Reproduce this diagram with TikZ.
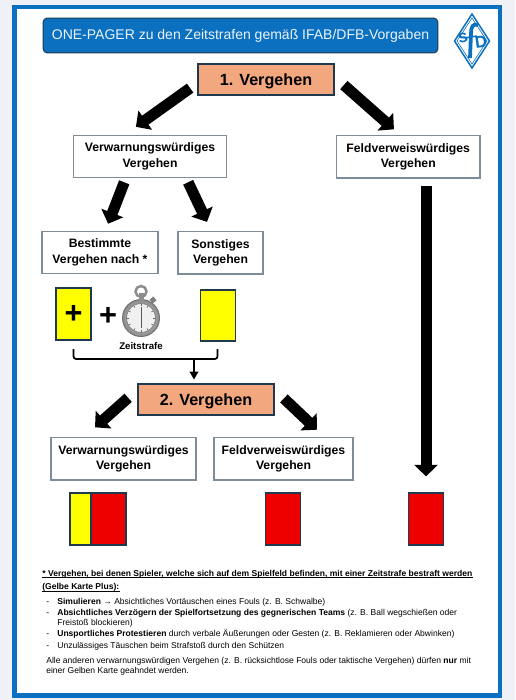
\documentclass[tikz,border=0pt]{standalone}
\usepackage{fontspec}
\setmainfont{Liberation Sans}
\usepackage{xcolor}
\usetikzlibrary{positioning,arrows.meta,calc}
\definecolor{framecolor}{RGB}{11, 112, 192}
\definecolor{pagecolor}{RGB}{240, 241, 247}
\definecolor{stagecolor}{RGB}{243, 167, 127}
\definecolor{edgecolor}{RGB}{31, 58, 78}
\definecolor{boxcolor}{RGB}{125, 140, 150}
\definecolor{cardyellow}{RGB}{255, 255, 0}
\definecolor{cardred}{RGB}{238, 0, 0}
\tikzset{
    title box/.style={rectangle, rounded corners=2.5pt, draw=edgecolor, line width=0.02cm, fill=framecolor, text=white!92!framecolor, minimum width=7.9cm, minimum height=0.7cm, inner sep=0pt, font=\fontsize{7.97}{9}\selectfont},
    stage box/.style={rectangle, draw=edgecolor, line width=0.035cm, fill=stagecolor, minimum width=2.72cm, minimum height=0.62cm, inner sep=0pt, text depth=0pt, font=\fontsize{9.2}{11}\selectfont\bfseries},
    offence box/.style={rectangle, draw=boxcolor, line width=0.022cm, fill=white, minimum height=0.85cm, inner sep=0pt, align=center, font=\fontsize{6.95}{8.7}\selectfont\bfseries, execute at begin node=\rule{0pt}{6.6pt}},
    card/.style={rectangle, draw=edgecolor, line width=0.035cm, minimum width=0.7cm, minimum height=1.03cm, inner sep=0pt},
    yellow card/.style={card, fill=cardyellow},
    red card/.style={card, fill=cardred},
    block arrow/.style={-{Triangle[length=0.23cm, width=0.46cm]}, line width=0.22cm, black},
    merge line/.style={line width=0.035cm, black, rounded corners=1.5pt},
    note bold/.style={anchor=base west, inner sep=0pt, font=\fontsize{4.86}{6}\selectfont\bfseries},
    note line/.style={anchor=base west, inner sep=0pt, font=\fontsize{4.86}{6}\selectfont},
    note rule/.style={black, line width=0.014cm},
    logo line/.style={draw=framecolor, line width=0.03cm}
}
\begin{document}
\begin{tikzpicture}[x=0.02cm, y=-0.02cm]
    \useasboundingbox (0,0) rectangle (515,700);

    % Page and frame
    \fill[pagecolor] (0,0) rectangle (515,700);
    \fill[framecolor] (12,5) rectangle (502,698);
    \fill[white] (16.5,9) rectangle (497.5,693);

    % Title and logo
    \node[title box] (title) at (240.5,35.5) {ONE-PAGER zu den Zeitstrafen gemäß IFAB/DFB-Vorgaben};
    \draw[logo line] (472,14) -- (489.5,41) -- (472,68) -- (454.5,41) -- cycle;
    \draw[logo line, line width=0.012cm] (472,18) -- (487,41) -- (472,64) -- (457,41) -- cycle;
    \draw[framecolor, line width=0.075cm] (478,25) .. controls (473,23) and (471,27) .. (471,33) -- (470,58);
    \draw[framecolor, line width=0.03cm] (465,38) -- (477,36);
    \node[text=framecolor, inner sep=0pt, rotate=12, font=\fontsize{10}{10}\selectfont\bfseries] (logoS) at (463,38) {s};
    \node[text=framecolor, inner sep=0pt, rotate=8, font=\fontsize{9.5}{10}\selectfont\bfseries] (logoD) at (481,42) {D};

    % First offence
    \node[stage box] (verg1) at (266,79.5) {1. Vergehen};
    \node[offence box, minimum width=3.06cm] (verwarn) at (150,156.5) {Verwarnungswürdiges\\Vergehen};
    \node[offence box, minimum width=2.87cm] (feldverw) at (408.25,156.75) {Feldverweiswürdiges\\Vergehen};
    \node[offence box, minimum width=2.32cm] (bestimmt) at (100,252.5) {Bestimmte\\Vergehen nach *};
    \node[offence box, minimum width=1.7cm] (sonstig) at (220.5,252.75) {Sonstiges\\Vergehen};

    % Cards of the first offence
    \node[yellow card, font=\fontsize{17.5}{17.5}\selectfont\bfseries] (plus card) at (73.5,314) {\raisebox{-1.5pt}{+}};
    \node[inner sep=0pt, font=\fontsize{17.5}{17.5}\selectfont\bfseries] (plus) at (108,316) {+};
    \node[yellow card] (plain card) at (218,315.5) {};

    % Stopwatch
    \node[circle, minimum size=0.74cm, inner sep=0pt, draw=black!55, line width=0.02cm, inner color=black!15, outer color=black!45] (watch) at (141,318) {};
    \node[circle, minimum size=0.58cm, inner sep=0pt, draw=black!50, line width=0.015cm, fill=black!6] (dial) at (watch) {};
    \foreach \tick in {0,30,...,330}
        \draw[black!60, line width=0.012cm] ($(dial)+(\tick:12)$) -- ($(dial)+(\tick:14)$);
    \draw[black!65, line width=0.02cm] (dial.center) -- ++(0,-11);
    \draw[black!65, line width=0.012cm] (dial.center) -- ++(0,10);
    \fill[black!45] (138.5,293) rectangle (143.5,300.5);
    \draw[black!45, line width=0.05cm] (141,291.5) circle (5.5);
    \fill[black!50, rotate around={40:(153,300)}] (150.5,297.5) rectangle (155.5,302.5);
    \node[inner sep=0pt, font=\fontsize{5.5}{7}\selectfont\bfseries] (zeit) at (141,346) {Zeitstrafe};

    % Both cards lead to the second offence
    \coordinate (merge left) at (73.5,349);
    \coordinate (merge right) at (217.5,349);
    \coordinate (merge mid) at (194,359);
    \draw[merge line] (merge left) -- ++(0,10) -| (merge right);
    \node[stage box] (verg2) at (206,399.5) {2. Vergehen};
    \draw[merge line, -{Triangle[length=0.16cm, width=0.17cm]}, shorten >=0.07cm] (merge mid) -- (merge mid |- verg2.north);

    % Second offence
    \node[offence box, minimum width=2.9cm] (verwarn2) at (123.5,458.75) {Verwarnungswürdiges\\Vergehen};
    \node[offence box, minimum width=2.78cm] (feldverw2) at (283.5,458.75) {Feldverweiswürdiges\\Vergehen};

    % Final cards
    \node[yellow card, minimum width=1.12cm] (yr card) at (97.75,519) {};
    \fill[cardred] (91.5,494) rectangle (125,544);
    \draw[edgecolor, line width=0.03cm] (91,494) -- (91,544);
    \node[red card] (red mid) at (283,519) {};
    \node[red card] (red far) at (426,519) {};

    % Block arrows
    \draw[block arrow, shorten <=0.172cm, shorten >=0.27cm] (verg1.183) -- (verwarn.139);
    \draw[block arrow, shorten <=0.24cm, shorten >=0.17cm] (verg1.2) -- (feldverw.110.6);
    \draw[block arrow, shorten <=0.086cm, shorten >=0.15cm] (verwarn.222.6) -- (bestimmt.76.4);
    \draw[block arrow, shorten <=0.088cm, shorten >=0.2cm] (verwarn.329.2) -- (sonstig.113);
    \draw[block arrow, shorten <=0.14cm, shorten >=0.32cm] (feldverw.south -| red far) -- (red far.north);
    \draw[block arrow, shorten <=0.24cm, shorten >=0.29cm] (verg2.172) -- (verwarn2.151.7);
    \draw[block arrow, shorten <=0.25cm, shorten >=0.21cm] (verg2.8.8) -- (feldverw2.28.6);

    % Notes
    \node[note bold] (head1) at (42,576) {* Vergehen, bei denen Spieler, welche sich auf dem Spielfeld befinden, mit einer Zeitstrafe bestraft werden};
    \node[note bold] (head2) at (42,589.5) {(Gelbe Karte Plus):};
    \foreach \name in {head1,head2}
        \draw[note rule] ($(\name.base west)+(0,1.5)$) -- ($(\name.base east)+(0,1.5)$);
    \foreach \name/\ypos in {a/604, b/615, c/636, d/648}
        \node[note line] (dash\name) at (46,\ypos) {-};
    \node[note line] (item1) at (57,604) {\textbf{Simulieren} → Absichtliches Vortäuschen eines Fouls (z. B. Schwalbe)};
    \node[note line] (item2) at (57,615) {\textbf{Absichtliches Verzögern der Spielfortsetzung des gegnerischen Teams} (z. B. Ball wegschießen oder};
    \node[note line] (item2b) at (57,625) {Freistoß blockieren)};
    \node[note line] (item3) at (57,636) {\textbf{Unsportliches Protestieren} durch verbale Äußerungen oder Gesten (z. B. Reklamieren oder Abwinken)};
    \node[note line] (item4) at (57,648) {Unzulässiges Täuschen beim Strafstoß durch den Schützen};
    \node[note line] (rest1) at (46,663) {Alle anderen verwarnungswürdigen Vergehen (z. B. rücksichtlose Fouls oder taktische Vergehen) dürfen \textbf{nur} mit};
    \node[note line] (rest2) at (46,673.5) {einer Gelben Karte geahndet werden.};
\end{tikzpicture}
\end{document}
